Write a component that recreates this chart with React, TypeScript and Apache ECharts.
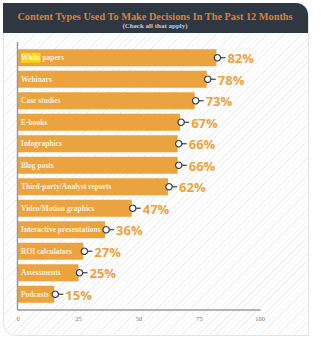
import React, { useEffect, useRef } from "react";
import * as echarts from "echarts";

const categories = [
  "White papers",
  "Webinars",
  "Case studies",
  "E-books",
  "Infographics",
  "Blog posts",
  "Third-party/Analyst reports",
  "Video/Motion graphics",
  "Interactive presentations",
  "ROI calculators",
  "Assessments",
  "Podcasts",
];
const values = [82, 78, 73, 67, 66, 66, 62, 47, 36, 27, 25, 15];
const xTicks = [0, 25, 50, 75, 100];
const titleText = "Content Types Used To Make Decisions In The Past 12 Months";
const subtitleText = "(Check all that apply)";

const ORANGE = "#eba33f";

export default function App() {
  const ref = useRef<HTMLDivElement>(null);
  useEffect(() => {
    if (!ref.current) return;
    const chart = echarts.init(ref.current, null, { renderer: "svg" });
    chart.setOption({
      animation: false,
      backgroundColor: "transparent",
      grid: { left: 18, right: 61, top: 47, bottom: 38, containLabel: false },
      xAxis: {
        type: "value",
        min: 0,
        max: 100,
        interval: 25,
        offset: 5,
        axisLine: { show: true, lineStyle: { color: "#9a9a9a", width: 1.5 } },
        axisTick: { show: false },
        splitLine: { show: false },
        axisLabel: {
          margin: 5,
          fontSize: 6.5,
          color: "#777",
          fontFamily: "Liberation Serif",
          formatter: (v: number) => (xTicks.includes(v) ? String(v) : ""),
        },
      },
      yAxis: {
        type: "category",
        data: categories,
        inverse: true,
        axisLine: { show: false },
        axisTick: { show: false },
        axisLabel: { show: false },
      },
      graphic: [
        {
          type: "rect",
          shape: { x: 3, y: 3, width: 305, height: 30, r: [0, 12, 0, 0] },
          style: { fill: "#2e3742" },
          z: 10,
        },
        {
          type: "text",
          x: 155,
          y: 16,
          style: {
            text: titleText,
            fill: "#db803b",
            font: "bold 10.3px 'Liberation Serif'",
            textAlign: "center",
            textVerticalAlign: "middle",
          },
          z: 11,
        },
        {
          type: "text",
          x: 155,
          y: 26,
          style: {
            text: subtitleText,
            fill: "#c9ccd0",
            font: "bold 7px 'Liberation Serif'",
            textAlign: "center",
            textVerticalAlign: "middle",
          },
          z: 11,
        },
        {
          type: "line",
          shape: { x1: 17.5, y1: 42, x2: 17.5, y2: 310 },
          style: { stroke: "#9a9a9a", lineWidth: 1.5 },
          z: 10,
        },
      ],
      series: [
        {
          type: "bar",
          data: values,
          barWidth: 17,
          itemStyle: { color: ORANGE },
          label: {
            show: true,
            position: "insideLeft",
            distance: 3,
            formatter: (p: any) =>
              p.dataIndex === 0
                ? "{hl|White} papers"
                : categories[p.dataIndex],
            color: "#fcf0dc",
            fontSize: 7.5,
            fontFamily: "Liberation Serif",
            fontWeight: "bold",
            rich: {
              hl: {
                backgroundColor: "#f6d31c",
                color: "#fff7cf",
                fontSize: 7.5,
                fontFamily: "Liberation Serif",
                fontWeight: "bold",
                padding: [1, 0, 1, 0],
              },
            },
          },
        },
        {
          type: "custom",
          data: values.map((v, i) => [v, i]),
          z: 5,
          renderItem: (_params: any, api: any) => {
            const p = api.coord([api.value(0), api.value(1)]);
            const v = api.value(0);
            return {
              type: "group",
              children: [
                {
                  type: "line",
                  shape: { x1: p[0] + 3, y1: p[1], x2: p[0] + 9, y2: p[1] },
                  style: { stroke: "#3d3d3d", lineWidth: 1.2 },
                },
                {
                  type: "circle",
                  shape: { cx: p[0] + 1, cy: p[1], r: 3.2 },
                  style: { fill: "#ffffff", stroke: "#3d3d3d", lineWidth: 1.2 },
                },
                {
                  type: "text",
                  x: p[0] + 11,
                  y: p[1] + 0.5,
                  style: {
                    text: v + "%",
                    fill: ORANGE,
                    font: "bold 13px 'Open Sans'",
                    textAlign: "left",
                    textVerticalAlign: "middle",
                  },
                },
              ],
            };
          },
        },
      ],
    });
    return () => chart.dispose();
  }, []);

  return (
    <div style={{ position: "absolute", left: 0, top: 0, width: 321, height: 343, background: "#fff" }}>
      <div
        style={{
          position: "absolute",
          left: 3,
          top: 3,
          width: 304,
          height: 331,
          border: "1px solid #e4e4e4",
          borderBottomLeftRadius: 12,
          borderTopRightRadius: 12,
          background:
            "repeating-linear-gradient(135deg, #ffffff 0px, #ffffff 3px, #f2f2f2 3px, #f2f2f2 4px)",
        }}
      />
      <div ref={ref} style={{ position: "absolute", left: 0, top: 0, width: 321, height: 343 }} />
    </div>
  );
}
